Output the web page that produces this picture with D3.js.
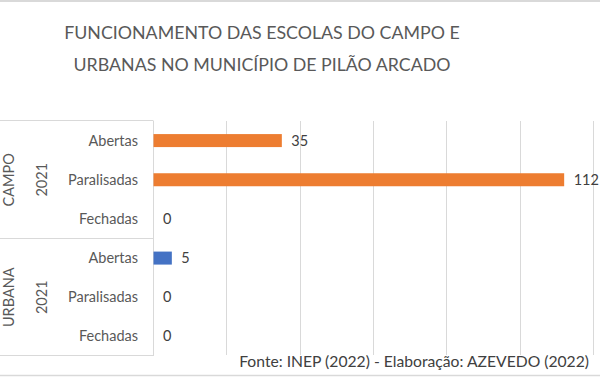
<!DOCTYPE html>
<html>
<head>
<meta charset="utf-8">
<script src="https://cdn.jsdelivr.net/npm/d3@7"></script>
<style>
    body { margin: 0; background: #fff; }
    svg { display: block; font-family: Lato, "Open Sans", sans-serif; }
</style>
</head>
<body>
<svg id="chart" width="600" height="377"></svg>
<script>
// Chart data
const titleLines = ['FUNCIONAMENTO DAS ESCOLAS DO CAMPO E', 'URBANAS NO MUNICÍPIO DE PILÃO ARCADO'];
const groups = ['CAMPO', 'URBANA'];
const groupYears = ['2021', '2021'];
const statuses = ['Abertas', 'Paralisadas', 'Fechadas'];
const campoValues = [35, 112, 0];
const urbanaValues = [5, 0, 0];
const xTicks = [0, 20, 40, 60, 80, 100, 120];
const sourceText = 'Fonte: INEP (2022) - Elaboração: AZEVEDO (2022)';

const svg = d3.select('#chart');
const colors = { CAMPO: '#ED7D31', URBANA: '#4472C4' };

// Plot area bounds
const margin = { top: 121, left: 153, right: 7, bottom: 21 };
const width = 600 - margin.left - margin.right;
const plotBottom = 377 - margin.bottom;

// Flatten rows, top to bottom
const rows = [];
groups.forEach((g, gi) => {
    const vals = gi === 0 ? campoValues : urbanaValues;
    statuses.forEach((s, si) => {
        rows.push({ id: `${g}-${s}`, group: g, status: s, value: vals[si] });
    });
});

const x = d3.scaleLinear().domain([0, 120]).range([margin.left, margin.left + width]);
const y = d3.scaleBand().domain(rows.map((d) => d.id)).range([margin.top, plotBottom]);
const groupScale = d3.scaleBand().domain(groups).range([margin.top, plotBottom]);

// chart outer border lines
svg.append('line').attr('x1', 0).attr('x2', 600).attr('y1', 1).attr('y2', 1)
  .attr('stroke', '#d9d9d9').attr('stroke-width', 2);
svg.append('line').attr('x1', 0).attr('x2', 600).attr('y1', 375.5).attr('y2', 375.5)
  .attr('stroke', '#d9d9d9').attr('stroke-width', 1.5);

// Title
svg.append('text')
  .attr('x', 262)
  .attr('text-anchor', 'middle')
  .attr('fill', '#595959')
  .attr('font-size', 17.8)
  .selectAll('tspan')
  .data(titleLines)
  .join('tspan')
  .attr('x', 262)
  .attr('y', (d, i) => 39 + i * 32)
  .text((d) => d);

// Gridlines
svg.append('g')
  .selectAll('line')
  .data(xTicks.slice(1))
  .join('line')
  .attr('x1', (d) => Math.round(x(d)) + 0.5)
  .attr('x2', (d) => Math.round(x(d)) + 0.5)
  .attr('y1', margin.top)
  .attr('y2', plotBottom - 1)
  .attr('stroke', '#d9d9d9');

// Category axis: vertical line plus group separators
svg.append('line')
  .attr('x1', margin.left + 0.5).attr('x2', margin.left + 0.5)
  .attr('y1', margin.top).attr('y2', plotBottom)
  .attr('stroke', '#d9d9d9');

const seps = [margin.top, ...groups.map((g) => groupScale(g) + groupScale.bandwidth())];
svg.append('g')
  .selectAll('line')
  .data(seps)
  .join('line')
  .attr('x1', 0)
  .attr('x2', margin.left + 0.5)
  .attr('y1', (d) => Math.round(d) - 0.5)
  .attr('y2', (d) => Math.round(d) - 0.5)
  .attr('stroke', '#d9d9d9');

// Status labels
svg.append('g')
  .selectAll('text')
  .data(rows)
  .join('text')
  .attr('x', 138)
  .attr('y', (d) => y(d.id) + y.bandwidth() / 2)
  .attr('dy', '0.35em')
  .attr('text-anchor', 'end')
  .attr('fill', '#595959')
  .attr('font-size', 14.5)
  .text((d) => d.status);

// Group and year labels (rotated)
groups.forEach((g, gi) => {
    const cy = groupScale(g) + groupScale.bandwidth() / 2;
    svg.append('text')
      .attr('transform', `translate(9,${cy}) rotate(-90)`)
      .attr('text-anchor', 'middle')
      .attr('dy', '0.35em')
      .attr('fill', '#595959')
      .attr('font-size', 14.5)
      .text(g);
    svg.append('text')
      .attr('transform', `translate(42,${cy}) rotate(-90)`)
      .attr('text-anchor', 'middle')
      .attr('dy', '0.35em')
      .attr('fill', '#595959')
      .attr('font-size', 14.5)
      .text(groupYears[gi]);
});

// Bars
const barH = 13;
svg.append('g')
  .selectAll('rect')
  .data(rows.filter((d) => d.value > 0))
  .join('rect')
  .attr('x', x(0) + 0.5)
  .attr('y', (d) => y(d.id) + y.bandwidth() / 2 - barH / 2)
  .attr('width', (d) => x(d.value) - x(0))
  .attr('height', barH)
  .attr('fill', (d) => colors[d.group]);

// Value labels
svg.append('g')
  .selectAll('text')
  .data(rows)
  .join('text')
  .attr('x', (d) => x(d.value) + 10)
  .attr('y', (d) => y(d.id) + y.bandwidth() / 2)
  .attr('dy', '0.35em')
  .attr('fill', '#404040')
  .attr('font-size', 14.5)
  .text((d) => d.value);

// Source note
svg.append('text')
  .attr('x', 589)
  .attr('y', 367)
  .attr('text-anchor', 'end')
  .attr('fill', '#404040')
  .attr('font-size', 15.7)
  .text(sourceText);
</script>
</body>
</html>
